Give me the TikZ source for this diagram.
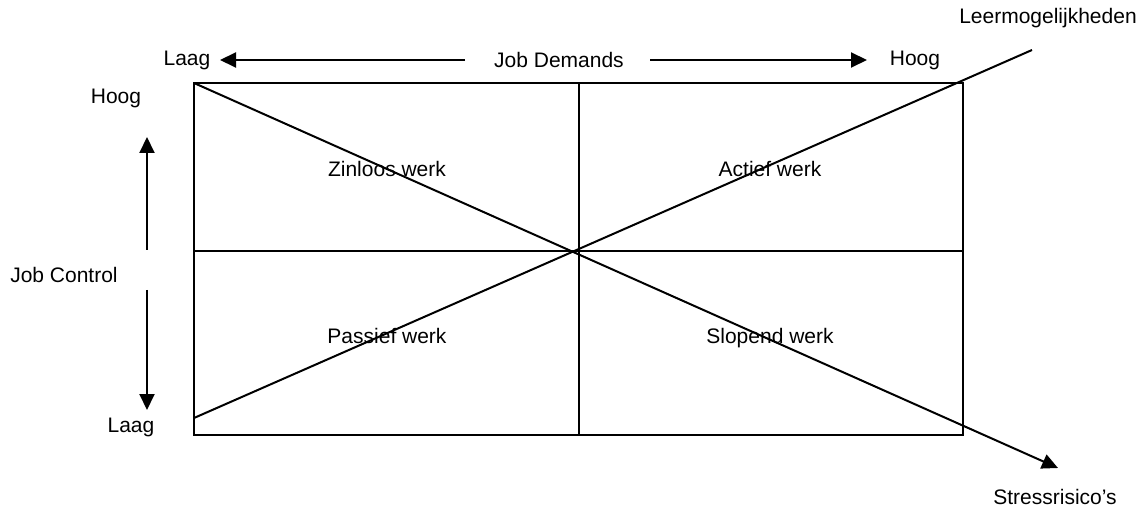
\documentclass[tikz,border=0pt]{standalone}
\usepackage{fontspec}
\setmainfont{Liberation Sans}
\usetikzlibrary{arrows.meta}
\begin{document}
\begin{tikzpicture}[x=1pt,y=-1pt,
  line width=2pt,
  lbl/.style={font=\fontsize{21}{25}\selectfont, inner sep=0pt},
  qlbl/.style={lbl, anchor=base},
  arr/.style={-{Triangle[length=16pt,width=15pt]}}]
\useasboundingbox (0,0) rectangle (1144,513);
% quadrant grid
\coordinate (tl) at (194,83);
\coordinate (br) at (963,435);
\coordinate (tm) at (579,83);
\coordinate (bm) at (579,435);
\coordinate (ml) at (194,251);
\coordinate (mr) at (963,251);
\draw (tl) rectangle (br);
\draw (tm) -- (bm);
\draw (ml) -- (mr);
% diagonals
\coordinate (dlow) at (194,418);
\coordinate (learnEnd) at (1032,50);
\coordinate (stressEnd) at (1058,468);
\draw (dlow) -- (learnEnd);
\draw[arr] (tl) -- (stressEnd);
% quadrant labels
\node[qlbl] (zinloos) at (387,177) {Zinloos werk};
\node[qlbl] (actief) at (770,177) {Actief werk};
\node[qlbl] (passief) at (387,343) {Passief werk};
\node[qlbl] (slopend) at (770,343) {Slopend werk};
% job demands axis
\node[lbl] (jd) at (559,60) {Job Demands};
\node[lbl] (jdlow) at (187,60) {Laag};
\node[lbl] (jdhigh) at (915,60) {Hoog};
\coordinate (jdL) at (465,60);
\coordinate (jdLt) at (220,60);
\coordinate (jdR) at (650,60);
\coordinate (jdRt) at (867,60);
\draw[arr] (jdL) -- (jdLt);
\draw[arr] (jdR) -- (jdRt);
% job control axis
\node[lbl] (jc) at (64,275) {Job Control};
\node[lbl] (jchigh) at (116,98) {Hoog};
\node[lbl] (jclow) at (131,427) {Laag};
\coordinate (jcU) at (147,250);
\coordinate (jcUt) at (147,137);
\coordinate (jcD) at (147,290);
\coordinate (jcDt) at (147,410);
\draw[arr] (jcU) -- (jcUt);
\draw[arr] (jcD) -- (jcDt);
% diagonal labels
\node[lbl] (leer) at (1048,18) {Leermogelijkheden};
\node[lbl] (stress) at (1055,497) {Stressrisico’s};
\end{tikzpicture}
\end{document}
